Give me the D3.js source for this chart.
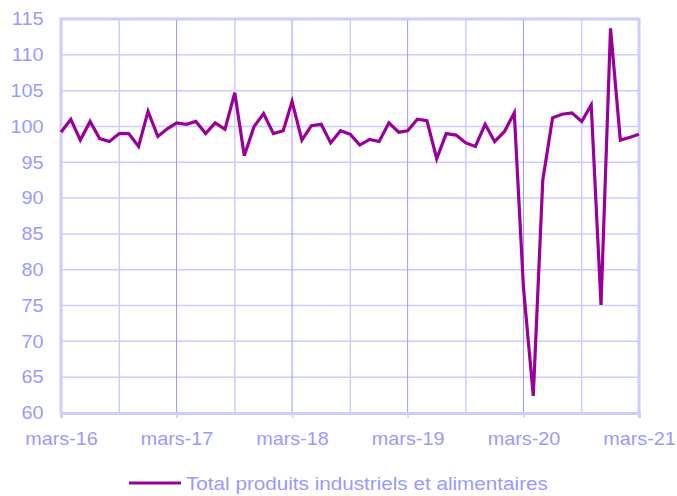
<!DOCTYPE html>
<html>
<head>
<meta charset="utf-8">
<script src="https://cdn.jsdelivr.net/npm/d3@7"></script>
<style>
  body { margin: 0; background: #fff; }
  text { font-family: "Liberation Sans", Arial, sans-serif; }
</style>
</head>
<body>
<svg id="chart"></svg>
<script>
// indice mensuel, mars-16 -> mars-21
var seriesName = "Total produits industriels et alimentaires";
var values = [
  99.2, 101.0, 98.1, 100.7, 98.3, 97.9, 99.0, 99.0, 97.2, 102.1, 98.6, 99.7,
  100.5, 100.3, 100.7, 99.0, 100.5, 99.6, 104.7, 95.9, 100.0, 101.8, 99.0, 99.4,
  103.5, 98.1, 100.1, 100.3, 97.7, 99.4, 98.9, 97.4, 98.2, 97.9, 100.5, 99.2,
  99.4, 101.0, 100.8, 95.5, 99.0, 98.8, 97.7, 97.2, 100.3, 97.9, 99.3, 101.9,
  77.5, 62.4, 92.5, 101.2, 101.7, 101.9, 100.7, 103.0, 75.1, 113.7, 98.1, 98.5, 98.9
];
var tickLabels = ["mars-16", "mars-17", "mars-18", "mars-19", "mars-20", "mars-21"];
var yTicks = [60, 65, 70, 75, 80, 85, 90, 95, 100, 105, 110, 115];

var start = new Date(2016, 2, 1);
var months = values.map(function (v, i) { return d3.timeMonth.offset(start, i); });

width = 677;
height = 496;
var margin = {left: 61, right: 38, top: 19, bottom: 83};

var svg = d3.select("#chart").attr("width", width).attr("height", height);

var x = d3.scaleTime()
    .domain([months[0], months[months.length - 1]])
    .range([margin.left, width - margin.right]);
var y = d3.scaleLinear()
    .domain([60, 115])
    .range([height - margin.bottom, margin.top]);

var light = "#ccccff", dark = "#9999ff", txt = "#9999ff";

// grille horizontale
svg.append("g").selectAll("line")
    .data(yTicks)
    .enter().append("line")
    .attr("x1", x.range()[0]).attr("x2", x.range()[1])
    .attr("y1", function (d) { return y(d); })
    .attr("y2", function (d) { return y(d); })
    .style("stroke", light).style("stroke-width", 1.5);

// grille verticale tous les 6 mois
var halfYears = months.filter(function (d, i) { return i % 6 == 0; });
svg.append("g").selectAll("line")
    .data(halfYears)
    .enter().append("line")
    .attr("x1", function (d) { return x(d); })
    .attr("x2", function (d) { return x(d); })
    .attr("y1", y(115)).attr("y2", y(60))
    .style("stroke", function (d, i) { return (i % 2 == 0) ? dark : light; })
    .style("stroke-width", function (d, i) { return (i % 2 == 0) ? 1 : 1.5; });

// cadre
svg.append("path")
    .attr("d", "M" + x.range()[0] + "," + y(60) + "V" + y(115) + "H" + x.range()[1] + "V" + y(60))
    .style("fill", "none").style("stroke", light).style("stroke-width", 3);

// axe x
var yearTicks = months.filter(function (d, i) { return i % 12 == 0; });
var xAxis = d3.axisBottom(x)
    .tickValues(yearTicks)
    .tickSize(5)
    .tickPadding(14)
    .tickFormat(function (d, i) { return tickLabels[i]; });
var gx = svg.append("g")
    .attr("transform", "translate(0," + y(60) + ")")
    .call(xAxis);
gx.select(".domain").style("stroke", light).style("stroke-width", 3);
gx.selectAll(".tick line").style("stroke", light).style("stroke-width", 1.5);
gx.selectAll(".tick text")
    .style("fill", txt).style("font-size", "18px")
    .attr("transform", "scale(1.1,1)");

// axe y
var yAxis = d3.axisLeft(y).tickValues(yTicks).tickSize(0).tickPadding(16);
var gy = svg.append("g")
    .attr("transform", "translate(" + margin.left + ",0)")
    .call(yAxis);
gy.select(".domain").remove();
gy.selectAll(".tick text")
    .style("fill", txt).style("font-size", "18px")
    .attr("transform", "scale(1.1,1)");

// courbe
var line = d3.line()
    .x(function (d, i) { return x(months[i]); })
    .y(function (d) { return y(d); });
svg.append("path")
    .datum(values)
    .attr("d", line)
    .style("fill", "none")
    .style("stroke", "#990099")
    .style("stroke-width", 3.2)
    .style("stroke-linejoin", "miter");

// légende
var leg = svg.append("g").attr("transform", "translate(129,483)");
leg.append("line")
    .attr("x1", 0).attr("x2", 52)
    .style("stroke", "#990099").style("stroke-width", 3);
leg.append("text")
    .attr("x", 57 / 1.1).attr("y", 7)
    .attr("transform", "scale(1.1,1)")
    .style("fill", txt).style("font-size", "18.8px")
    .text(seriesName);
</script>
</body>
</html>
